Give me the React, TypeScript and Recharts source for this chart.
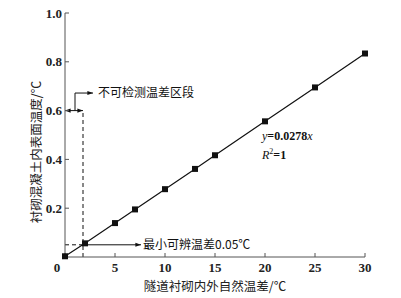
import React from 'react';
import {
  ComposedChart,
  Line,
  XAxis,
  YAxis,
  ReferenceLine,
  ReferenceDot
} from 'recharts';

// measured temperature difference vs. surface temperature difference
const naturalDiff = [0, 2, 5, 7, 10, 13, 15, 20, 25, 30];
const surfaceDiff = [0.003, 0.056, 0.139, 0.195, 0.278, 0.361, 0.417, 0.556, 0.695, 0.834];

const xTicks = [0, 5, 10, 15, 20, 25, 30];
const yTicks = [0.2, 0.4, 0.6, 0.8, 1.0];

// annotation values
const minResolvable = 0.05;
const undetectableX = 1.8;
const undetectableTop = 0.6;
const bracketX = 1.0;
const bracketTop = 0.672;
const bracketArrowEnd = 2.8;
const undetectableLabel = '不可检测温差区段';
const minArrowEnd = 7.6;
const minLabel = '最小可辨温差0.05℃';
const fitEquation = { x: 19.7, y: 0.496, slope: '0.0278' };
const fitR2 = { x: 19.7, y: 0.418, value: '1' };

const data = naturalDiff.map((x, i) => ({ x, y: surfaceDiff[i] }));

const serif = '"Liberation Serif", "DejaVu Serif", serif';
const cjk = '"Noto Sans CJK SC", sans-serif';
const ink = '#111';
const axisGrey = '#555';

const head = (x: number, y: number, fromX: number, fromY: number) => {
  const a = Math.atan2(y - fromY, x - fromX);
  const s = 6;
  const p1 = `${x - s * Math.cos(a - 0.35)},${y - s * Math.sin(a - 0.35)}`;
  const p2 = `${x - s * Math.cos(a + 0.35)},${y - s * Math.sin(a + 0.35)}`;
  return <polygon points={`${x},${y} ${p1} ${p2}`} fill={ink} />;
};

const arrowShape = (both: boolean, dashed = false) => (props: any) => {
  const { x1, y1, x2, y2 } = props;
  return (
    <g>
      <line x1={x1} y1={y1} x2={x2} y2={y2} stroke={ink} strokeWidth={1} strokeDasharray={dashed ? '4 3' : undefined} />
      {head(x2, y2, x1, y1)}
      {both ? head(x1, y1, x2, y2) : null}
    </g>
  );
};

const plainShape = (dashed: boolean) => (props: any) => {
  const { x1, y1, x2, y2 } = props;
  return (
    <line x1={x1} y1={y1} x2={x2} y2={y2} stroke={ink} strokeWidth={1} strokeDasharray={dashed ? '4 3' : undefined} />
  );
};

const textShape = (content: React.ReactNode, fontFamily: string) => (props: any) => (
  <text x={props.cx} y={props.cy} dy="0.35em" fontSize={12} fontFamily={fontFamily} fill={ink}>
    {content}
  </text>
);

const SquareDot = (props: any) => {
  const { cx, cy, index } = props;
  return <rect key={`dot-${index}`} x={cx - 3} y={cy - 3} width={6} height={6} fill={ink} />;
};

const XTick = (props: any) => {
  const { x, y, payload } = props;
  const dx = payload.value === 0 ? -8 : 0;
  return (
    <text x={x + dx} y={y} dy="0.71em" textAnchor="middle" fontSize={13} fontWeight="bold" fontFamily={serif} fill="#222">
      {payload.value}
    </text>
  );
};

const YTick = (props: any) => {
  const { x, y, payload } = props;
  return (
    <text x={x} y={y} dy="0.35em" textAnchor="end" fontSize={13} fontWeight="bold" fontFamily={serif} fill="#222">
      {payload.value.toFixed(1)}
    </text>
  );
};

const YLabel = (props: any) => {
  const { viewBox } = props;
  const cx = 37;
  const cy = viewBox.y + viewBox.height / 2 + 17;
  return (
    <text x={cx} y={cy} textAnchor="middle" dy="0.35em" transform={`rotate(-90, ${cx}, ${cy})`} fontSize={12.5} fontFamily={cjk} fill="#222">
      衬砌混凝土内表面温度/℃
    </text>
  );
};

export default function App() {
  return (
    <div style={{ position: 'absolute', left: 0, top: 0, background: '#fff' }}>
      <ComposedChart width={401} height={298} data={data} margin={{ top: 13, right: 36, bottom: 0, left: 0 }}>
        <XAxis
          type="number"
          dataKey="x"
          domain={[0, 30]}
          ticks={xTicks}
          height={41}
          tickSize={-4}
          tickMargin={10}
          stroke={axisGrey}
          tick={<XTick />}
          label={{ value: '隧道衬砌内外自然温差/℃', position: 'insideBottom', offset: 7, fontSize: 12.5, fontFamily: cjk, fill: '#222' }}
        />
        <YAxis
          type="number"
          domain={[0, 1]}
          ticks={yTicks}
          width={65}
          tickSize={-4}
          tickMargin={7}
          stroke={axisGrey}
          tick={<YTick />}
          label={<YLabel />}
        />

        <ReferenceLine segment={[{ x: 0, y: minResolvable }, { x: naturalDiff[1], y: minResolvable }]} shape={plainShape(true)} />
        <ReferenceLine segment={[{ x: naturalDiff[1], y: minResolvable }, { x: minArrowEnd, y: minResolvable }]} shape={arrowShape(false)} />
        <ReferenceLine segment={[{ x: undetectableX, y: 0 }, { x: undetectableX, y: undetectableTop }]} shape={plainShape(true)} />
        <ReferenceLine segment={[{ x: 0, y: undetectableTop }, { x: undetectableX, y: undetectableTop }]} shape={arrowShape(true)} />
        <ReferenceLine segment={[{ x: bracketX, y: undetectableTop }, { x: bracketX, y: bracketTop }]} shape={plainShape(false)} />
        <ReferenceLine segment={[{ x: bracketX, y: bracketTop }, { x: bracketArrowEnd, y: bracketTop }]} shape={arrowShape(false)} />

        <Line
          type="linear"
          dataKey="y"
          stroke={ink}
          strokeWidth={1.2}
          dot={<SquareDot />}
          activeDot={false}
          isAnimationActive={false}
        />

        <ReferenceDot x={bracketArrowEnd + 0.5} y={bracketTop} shape={textShape(undetectableLabel, cjk)} />
        <ReferenceDot x={minArrowEnd + 0.2} y={minResolvable} shape={textShape(minLabel, cjk)} />
        <ReferenceDot
          x={fitEquation.x}
          y={fitEquation.y}
          shape={textShape(
            <>
              <tspan fontStyle="italic">y</tspan>
              <tspan fontWeight="bold">={fitEquation.slope}</tspan>
              <tspan fontStyle="italic">x</tspan>
            </>,
            serif
          )}
        />
        <ReferenceDot
          x={fitR2.x}
          y={fitR2.y}
          shape={textShape(
            <>
              <tspan fontStyle="italic">R</tspan>
              <tspan fontSize={8} dy={-5}>2</tspan>
              <tspan fontWeight="bold" dy={5}>={fitR2.value}</tspan>
            </>,
            serif
          )}
        />
      </ComposedChart>
    </div>
  );
}
